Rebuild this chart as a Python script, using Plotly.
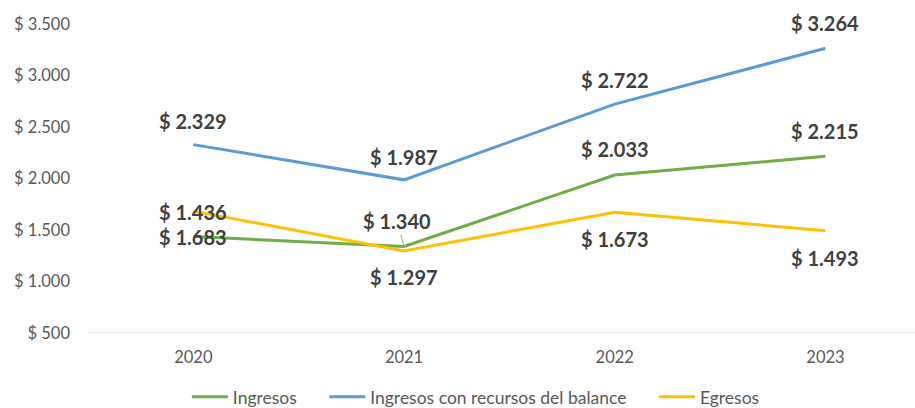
import plotly.graph_objects as go

years = ["2020", "2021", "2022", "2023"]
ingresos = [1436, 1340, 2033, 2215]
ingresos_balance = [2329, 1987, 2722, 3264]
egresos = [1683, 1297, 1673, 1493]
y_ticks = [500, 1000, 1500, 2000, 2500, 3000, 3500]

def fmt(v):
    return "$ " + f"{v:,}".replace(",", ".")

series = [
    ("Ingresos", ingresos, "#70AD47"),
    ("Ingresos con recursos del balance", ingresos_balance, "#5B9BD5"),
    ("Egresos", egresos, "#FFC000"),
]

PAD = "\u00a0" * 5
fig = go.Figure()
for k, (name, vals, col) in enumerate(series):
    label = name + (PAD if k < len(series) - 1 else "")
    fig.add_trace(go.Scatter(x=list(range(len(years))), y=vals, mode="lines", name=label,
                             line=dict(color=col, width=3), hoverinfo="skip"))

LBL = dict(size=20, color="#404040", family="Lato")
# label offsets (pixels): positive = above
offsets = {
    "Ingresos": [(0, 25), None, (0, 26), (0, 25)],
    "Ingresos con recursos del balance": [(0, 24), (0, 23), (0, 24), (0, 25)],
    "Egresos": [(0, -26), (0, -26), (0, -27), (0, -27)],
}
annotations = []
for name, vals, col in series:
    for i, v in enumerate(vals):
        off = offsets[name][i]
        if off is None:
            annotations.append(dict(x=i, y=v, xref="x", yref="y", text="<b>" + fmt(v) + "</b>",
                                    showarrow=True, ax=-7, ay=-25, arrowhead=0, arrowwidth=1,
                                    arrowcolor="#A6A6A6", standoff=0, font=LBL))
        else:
            annotations.append(dict(x=i, y=v, xref="x", yref="y", text="<b>" + fmt(v) + "</b>",
                                    showarrow=False, xshift=off[0], yshift=off[1], font=LBL))

fig.update_layout(
    width=915, height=408,
    margin=dict(l=88, r=0, t=24, b=75, autoexpand=False),
    paper_bgcolor="white", plot_bgcolor="white",
    font=dict(family="Lato", size=16, color="#595959"),
    showlegend=True,
    legend=dict(orientation="h", x=0.469, xanchor="center", y=-0.207, yanchor="middle",
                font=dict(size=17.5, color="#595959"), itemwidth=36, tracegroupgap=0),
    annotations=annotations,
    xaxis=dict(range=[-0.5, 3.425], tickvals=list(range(len(years))), ticktext=years,
               showgrid=False, zeroline=False, showline=False, ticks="", automargin=False,
               tickfont=dict(size=16.5, color="#595959"), ticklabelstandoff=12),
    yaxis=dict(range=[500, 3500], tickvals=y_ticks, ticktext=[fmt(v) for v in y_ticks],
               showgrid=False, zeroline=False, showline=False, ticks="", automargin=False,
               tickfont=dict(size=16.5, color="#595959"), ticklabelstandoff=17),
    shapes=[dict(type="line", xref="paper", yref="y", x0=0, x1=1, y0=500, y1=500,
                 line=dict(color="#D9D9D9", width=1), layer="below")],
)

fig.write_html("out.html", config={"displayModeBar": False},
               post_script="document.body.style.margin='0';document.body.style.overflow='hidden';")
